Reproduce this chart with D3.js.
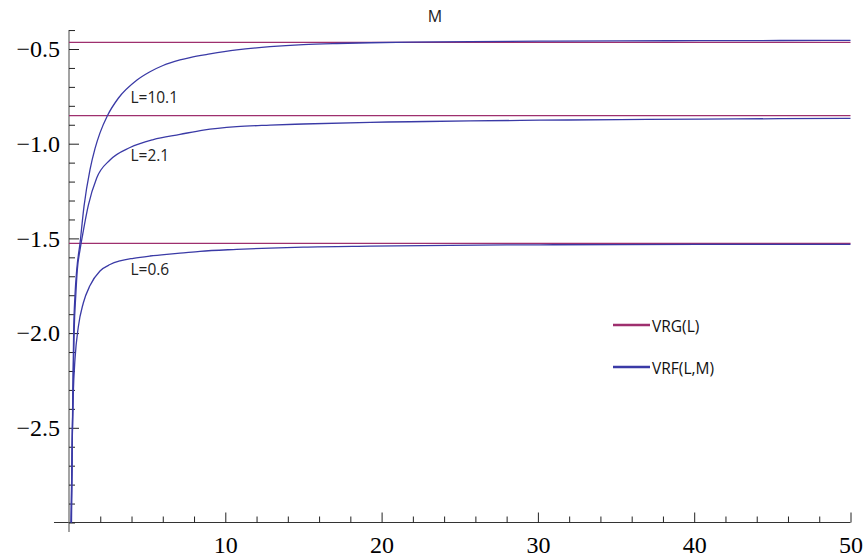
<!DOCTYPE html>
<html>
<head>
<meta charset="utf-8">
<script src="https://cdn.jsdelivr.net/npm/d3@7"></script>
<style>
  html, body { margin: 0; padding: 0; background: #fff; }
  svg { display: block; }
  .tickfont text { font-family: "Liberation Serif", "Times New Roman", Times, Tinos, "Noto Serif", "DejaVu Serif", serif; font-size: 24px; }
</style>
</head>
<body>
<svg id="chart" width="868" height="560"></svg>
<script>
// ---- data ----
const xMajorTicks = [10, 20, 30, 40, 50];
const xMinorTicks = [2, 4, 6, 8, 12, 14, 16, 18, 22, 24, 26, 28, 32, 34, 36, 38, 42, 44, 46, 48];
const yMajorTicks = [-0.5, -1.0, -1.5, -2.0, -2.5];
const yMinorTicks = [-0.4, -0.6, -0.7, -0.8, -0.9, -1.1, -1.2, -1.3, -1.4, -1.6, -1.7, -1.8, -1.9,
                     -2.1, -2.2, -2.3, -2.4, -2.6, -2.7, -2.8, -2.9, -3.0];

// VRG(L): horizontal levels for L = 10.1, 2.1, 0.6
const vrgLabels = ["L=10.1", "L=2.1", "L=0.6"];
const vrgLevels = [-0.4646, -0.852, -1.526];

// VRF(L,M) curves
const vrfM_L101 = [0.16, 0.237, 0.30, 0.384, 0.493, 0.704, 0.96, 1.344, 1.663, 1.983, 2.463, 3.154, 4.331, 5.182, 6.014, 7.102, 7.74, 9.02, 10.73, 12.86, 14.99, 17.13, 19.26, 21.82, 25.66, 30.13, 35.25, 40.37, 45.49, 50];
const vrfY_L101 = [-3.0, -2.353, -1.984, -1.799, -1.667, -1.526, -1.331, -1.137, -1.026, -0.943, -0.851, -0.760, -0.665, -0.620, -0.587, -0.558, -0.545, -0.526, -0.505, -0.488, -0.477, -0.471, -0.467, -0.4636, -0.461, -0.4588, -0.4572, -0.4562, -0.4551, -0.4541];

const vrfM_L21 = [0.128, 0.25, 0.333, 0.435, 0.531, 0.704, 0.915, 1.235, 1.772, 2.623, 3.903, 5.393, 7.102, 8.593, 10.73, 12.86, 14.99, 19.26, 21.82, 25.66, 30.13, 35.25, 40.37, 45.49, 50];
const vrfY_L21 = [-3.0, -2.353, -1.984, -1.799, -1.667, -1.561, -1.461, -1.326, -1.181, -1.086, -1.020, -0.978, -0.951, -0.928, -0.910, -0.902, -0.896, -0.887, -0.884, -0.880, -0.876, -0.873, -0.870, -0.868, -0.866];

const vrfM_L06 = [0.141, 0.205, 0.275, 0.384, 0.595, 0.915, 1.344, 1.983, 2.623, 3.263, 4.114, 5.182, 6.251, 7.102, 8.381, 10.73, 12.86, 14.99, 19.26, 24.38, 30.13, 35.25, 40.37, 45.49, 50];
const vrfY_L06 = [-3.0, -2.564, -2.316, -2.137, -1.968, -1.841, -1.749, -1.672, -1.638, -1.619, -1.605, -1.593, -1.584, -1.578, -1.568, -1.558, -1.551, -1.546, -1.541, -1.5365, -1.5338, -1.5327, -1.5319, -1.5314, -1.5311];

const legendLabels = ["VRG(L)", "VRF(L,M)"];
const plotTitle = "M";

// ---- drawing ----
const colVRG = "#9e2f6e";
const colVRF = "#3a3aa6";

const svg = d3.select("#chart");
const x = d3.scaleLinear().domain([0, 50]).range([69, 850.5]);
const y = d3.scaleLinear().domain([-3, -0.4]).range([522.5, 30.06]);

// axis lines
svg.append("line").attr("x1", x(-0.96)).attr("x2", x(50)).attr("y1", y(-3)).attr("y2", y(-3))
  .attr("stroke", "#333").attr("stroke-width", 1);
svg.append("line").attr("x1", x(0)).attr("x2", x(0)).attr("y1", y(-0.4)).attr("y2", y(-3.05))
  .attr("stroke", "#666").attr("stroke-width", 1.2);

// x axis ticks
const gxMinor = svg.append("g").attr("transform", `translate(0,${y(-3)})`)
  .call(d3.axisBottom(x).tickValues(xMinorTicks).tickSize(-6).tickFormat(""));
const gxMajor = svg.append("g").attr("class", "tickfont").attr("transform", `translate(0,${y(-3)})`)
  .call(d3.axisBottom(x).tickValues(xMajorTicks).tickSize(-10).tickPadding(13).tickFormat(d3.format("d")));
// y axis ticks
const gyMinor = svg.append("g").attr("transform", `translate(${x(0)},0)`)
  .call(d3.axisLeft(y).tickValues(yMinorTicks).tickSize(-6).tickFormat(""));
const gyMajor = svg.append("g").attr("class", "tickfont").attr("transform", `translate(${x(0)},0)`)
  .call(d3.axisLeft(y).tickValues(yMajorTicks).tickSize(-10).tickPadding(9).tickFormat(d3.format(".1f")));

[gxMinor, gxMajor, gyMinor, gyMajor].forEach(g => {
  g.select(".domain").remove();
  g.attr("font-family", null).attr("font-size", null);
  g.selectAll(".tick line").attr("stroke", "#222").attr("stroke-width", 1);
  g.selectAll("text").attr("fill", "#000");
});

// VRG horizontal lines
svg.append("g").selectAll("line").data(vrgLevels).join("line")
  .attr("x1", x(0)).attr("x2", x(50))
  .attr("y1", d => y(d)).attr("y2", d => y(d))
  .attr("stroke", colVRG).attr("stroke-width", 1.3);

// VRF curves
const curves = [
  vrfM_L101.map((m, i) => [m, vrfY_L101[i]]),
  vrfM_L21.map((m, i) => [m, vrfY_L21[i]]),
  vrfM_L06.map((m, i) => [m, vrfY_L06[i]])
];
const line = d3.line().x(d => x(d[0])).y(d => y(d[1])).curve(d3.curveMonotoneX);
svg.append("g").selectAll("path").data(curves).join("path")
  .attr("d", line).attr("fill", "none")
  .attr("stroke", colVRF).attr("stroke-width", 1.3);

// curve labels
const labelFont = "'Open Sans', 'Noto Sans', sans-serif";
const labelPos = [[3.93, -0.785], [3.93, -1.093], [3.93, -1.695]];
svg.append("g").selectAll("text").data(vrgLabels).join("text")
  .attr("x", (d, i) => x(labelPos[i][0]))
  .attr("y", (d, i) => y(labelPos[i][1]))
  .style("font-family", labelFont).style("font-size", "15.5px").attr("fill", "#222")
  .text(d => d);

// title
svg.append("text").attr("x", 435).attr("y", 22).attr("text-anchor", "middle")
  .style("font-family", labelFont).style("font-size", "16px").attr("fill", "#222").text(plotTitle);

// legend
const legCols = [colVRG, colVRF];
const lg = svg.append("g").attr("transform", "translate(613,325)");
legendLabels.forEach((t, i) => {
  lg.append("line").attr("x1", 0).attr("x2", 37).attr("y1", i * 42).attr("y2", i * 42)
    .attr("stroke", legCols[i]).attr("stroke-width", 2.6);
  lg.append("text").attr("x", 39).attr("y", i * 42 + 6.5)
    .style("font-family", labelFont).style("font-size", "15.5px").attr("fill", "#111").text(t);
});
</script>
</body>
</html>
